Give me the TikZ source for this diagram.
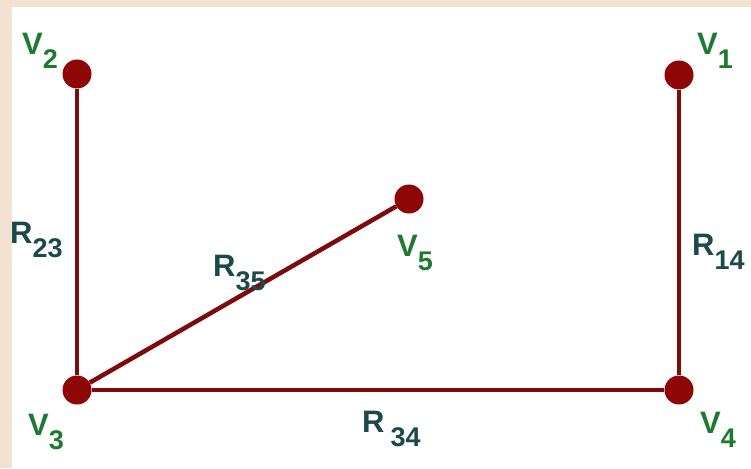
\documentclass[tikz,border=0pt]{standalone}
\usepackage{fontspec}
\setmainfont{Liberation Sans}
\usepackage{xcolor}
\usepackage{tikz}
\usetikzlibrary{positioning}
\definecolor{framebeige}{HTML}{F3E2D2}
\definecolor{edgered}{HTML}{7E0B0B}
\definecolor{dotred}{HTML}{8E0606}
\definecolor{vgreen}{HTML}{1E7A30}
\definecolor{rteal}{HTML}{1C4A4A}
\newcommand{\lbl}[2]{#1\raisebox{-14pt}{\fontsize{27}{27}\selectfont #2}}
\tikzset{
  dot/.style={circle, fill=dotred, inner sep=0pt, minimum size=29pt},
  wire/.style={edgered, line width=4.5pt},
  vname/.style={anchor=base west, inner sep=0pt, text=vgreen, font=\bfseries\fontsize{31}{31}\selectfont},
  rname/.style={anchor=base west, inner sep=0pt, text=rteal, font=\bfseries\fontsize{31}{31}\selectfont}
}

\begin{document}
\begin{tikzpicture}[x=1pt,y=-1pt]
      \useasboundingbox (0,0) rectangle (751,468);
      \fill[framebeige] (0,0) rectangle (751,468);
      \fill[white] (12,7) rectangle (751,468);
      % vertices
      \node[dot] (v1) at (679,75) {};
      \node[dot] (v2) at (77,74) {};
      \node[dot] (v3) at (77,390) {};
      \node[dot] (v4) at (679,390) {};
      \node[dot] (v5) at (409,199) {};
      % branches
      \draw[wire] (v2) -- (v3);
      \draw[wire] (v1) -- (v4);
      \draw[wire] (v3) -- (v4);
      \draw[wire] (v3) -- (v5);
      % names
      \node[vname] (n1) at (697,55) {\lbl{V}{1}};
      \node[vname] (n2) at (22,55) {\lbl{V}{2}};
      \node[vname] (n3) at (28,435) {\lbl{V}{3}};
      \node[vname] (n4) at (700,433) {\lbl{V}{4}};
      \node[vname] (n5) at (397,256) {\lbl{V}{5}};
      \node[rname] (r23) at (10,243) {\lbl{R}{23}};
      \node[rname] (r14) at (692,255) {\lbl{R}{14}};
      \node[rname] (r35) at (213,276) {\lbl{R}{35}};
      \node[rname] (r34) at (362,432) {\lbl{R\hspace{6pt}}{34}};
    \end{tikzpicture}
\end{document}
